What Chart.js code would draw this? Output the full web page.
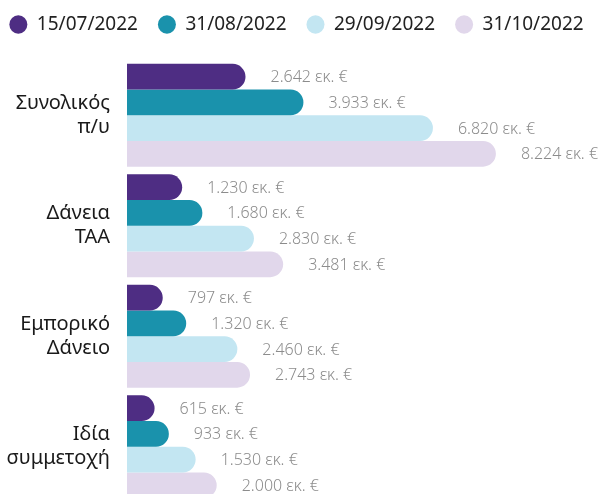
<!DOCTYPE html>
<html>
<head>
<meta charset="utf-8">
<script src="https://cdn.jsdelivr.net/npm/chart.js@4"></script>
<style>
  html, body { margin: 0; padding: 0; overflow: hidden; background: #fff; }
  #box { width: 601px; height: 502px; position: relative; }
</style>
</head>
<body>
<div id="box"><canvas id="grafico"></canvas></div>
<script>
// dados
const categorias = [['Συνολικός', 'π/υ'], ['Δάνεια', 'ΤΑΑ'], ['Εμπορικό', 'Δάνειο'], ['Ιδία', 'συμμετοχή']];
const datas = ['15/07/2022', '31/08/2022', '29/09/2022', '31/10/2022'];
const valores1507 = [2642, 1230, 797, 615];
const valores3108 = [3933, 1680, 1320, 933];
const valores2909 = [6820, 2830, 2460, 1530];
const valores3110 = [8224, 3481, 2743, 2000];
const cores = ['#4e2d83', '#1a92ac', '#c3e6f2', '#e1d7eb'];

function formatar(v) {
  return String(v).replace(/\B(?=(\d{3})+(?!\d))/g, '.') + ' εκ. €';
}

// escreve o valor ao lado de cada barra
const rotulos = {
  id: 'rotulos',
  afterDatasetsDraw(chart) {
    const ctx = chart.ctx;
    ctx.save();
    ctx.font = '300 16px "Noto Sans"';
    ctx.fillStyle = '#8c8c8c';
    ctx.textAlign = 'left';
    ctx.textBaseline = 'middle';
    chart.data.datasets.forEach((ds, i) => {
      chart.getDatasetMeta(i).data.forEach((bar, j) => {
        ctx.fillText(formatar(ds.data[j]), bar.x + 25, bar.y + 1);
      });
    });
    ctx.restore();
  }
};

// legenda numa linha só e com mais espaço abaixo
const ajusteLegenda = {
  id: 'ajusteLegenda',
  afterInit(chart) {
    const leg = chart.legend;
    const fitOriginal = leg.fit;
    const drawOriginal = leg.draw;
    leg.fit = function () {
      const larg = this.maxWidth;
      this.maxWidth = 800;
      fitOriginal.call(this);
      this.maxWidth = larg;
      this.width = larg;
      this.height += 16;
    };
    leg.draw = function () {
      const l = this.left, r = this.right;
      this.left = l - 17;
      this.right = r + 12;
      drawOriginal.call(this);
      this.left = l;
      this.right = r;
    };
  }
};

const ctx = document.getElementById('grafico').getContext('2d');
new Chart(ctx, {
  type: 'bar',
  data: {
    labels: categorias,
    datasets: [valores1507, valores3108, valores2909, valores3110].map((d, i) => ({
      label: datas[i],
      data: d,
      backgroundColor: cores[i],
      borderRadius: 20,
      borderSkipped: 'start',
      categoryPercentage: 0.93,
      barPercentage: 1
    }))
  },
  options: {
    indexAxis: 'y',
    responsive: true,
    maintainAspectRatio: false,
    animation: false,
    layout: { padding: { top: -5, right: 3, left: 0, bottom: 0 } },
    scales: {
      x: { display: false, min: 0, max: 10500 },
      y: {
        grid: { display: false },
        border: { display: false },
        afterFit: (axis) => {
          axis.width = 127;
          axis.paddingTop = 0;
          axis.paddingBottom = 0;
        },
        ticks: {
          color: '#1a1a1a',
          padding: 9,
          font: { family: '"Noto Sans"', size: 20 }
        }
      }
    },
    plugins: {
      tooltip: { enabled: false },
      legend: {
        position: 'top',
        labels: {
          usePointStyle: true,
          pointStyle: 'circle',
          boxHeight: 13,
          pointStyleWidth: 18,
          padding: 20,
          color: '#222',
          font: { family: '"Noto Sans"', size: 19 }
        }
      }
    }
  },
  plugins: [rotulos, ajusteLegenda]
});
</script>
</body>
</html>
